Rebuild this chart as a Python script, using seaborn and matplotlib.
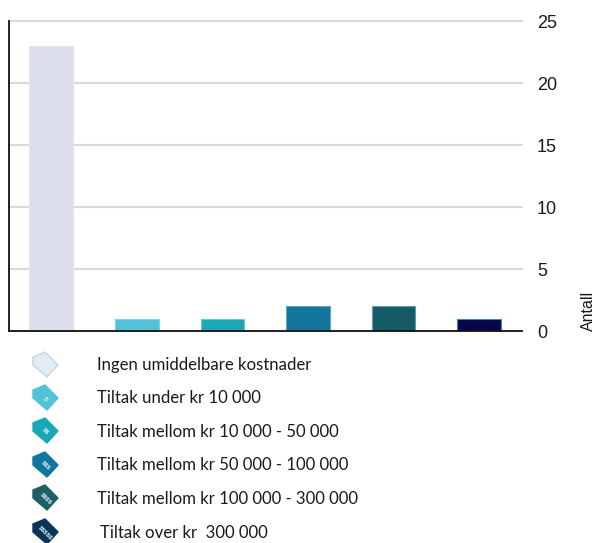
import numpy as np
import pandas as pd
import seaborn as sns
import matplotlib.pyplot as plt
from matplotlib.patches import Polygon
from matplotlib.transforms import Affine2D

W, H = 595, 543

kategorier = ["Ingen umiddelbare kostnader", "Tiltak under kr 10 000",
              "Tiltak mellom kr 10 000 - 50 000", "Tiltak mellom kr 50 000 - 100 000",
              "Tiltak mellom kr 100 000 - 300 000", "Tiltak over kr  300 000"]
antall = [23, 1, 1, 2, 2, 1]
farger = ["#dcdfeb", "#52c2d8", "#19a8b8", "#11759c", "#155b66", "#07064a"]
kanter = ["#e3e5ef", "#7fd3e3", "#6cc9d3", "#5fa5c0", "#5f9aa5", "#4a86ab"]
ikon_farger = ["#dfeef4", "#52c2d8", "#19a8b8", "#11759c", "#1d6068", "#0a3558"]
ikon_tekst = ["", "$", "$$", "$$$", "$$$$", "$$$$$"]
tekst_y = [365, 398, 432, 465, 499, 533]
tekst_x = [97, 97, 97, 97, 97, 100]
ikon_y = [365, 398, 431, 465, 498, 532]

sns.set_theme(style="white")
plt.rcParams["font.family"] = ["Liberation Sans", "DejaVu Sans"]

fig = plt.figure(figsize=(W / 100, H / 100), dpi=100)
ax = fig.add_axes([8.5 / W, 1 - 331 / H, (522 - 8.5) / W, (331 - 21) / H])

df = pd.DataFrame({"kategori": kategorier, "antall": antall})
sns.barplot(data=df, x="kategori", y="antall", hue="kategori", palette=farger,
            width=0.51, legend=False, saturation=1, ax=ax)

for bar, kant in zip(ax.patches, kanter):
    bar.set_edgecolor(kant)
    bar.set_linewidth(0.8)
    bar.set_zorder(3)

ax.set_ylim(0, 25)
ax.set_yticks([0, 5, 10, 15, 20, 25])
ax.set_xlabel("")
ax.set_ylabel("")
ax.set_xticks([])
ax.yaxis.tick_right()
ax.tick_params(axis="y", length=0, pad=10.8, labelsize=13, labelcolor="#1a1a1a")
ax.grid(axis="y", color="#d9d9d9", linewidth=1.5, clip_on=False)
ax.set_axisbelow(True)
for side in ["top", "right"]:
    ax.spines[side].set_visible(False)
for side in ["left", "bottom"]:
    ax.spines[side].set_color("#111111")
    ax.spines[side].set_linewidth(1.3)
    ax.spines[side].set_zorder(5)

fig.text(588 / W, 1 - 331 / H, "Antall", rotation=90, ha="center", va="bottom",
         fontsize=11.5, color="#1a1a1a")

# priklapper i tegnforklaringen, koordinater i piksler
form = [(-13, -8), (-1, -13), (12, 0), (1, 12), (-13, 0)]
px = Affine2D().scale(1 / W, -1 / H).translate(0, 1) + fig.transFigure
for i, navn in enumerate(kategorier):
    pts = [(46 + a, ikon_y[i] + b) for a, b in form]
    kant = "#c9d3d8" if i == 0 else ikon_farger[i]
    fig.add_artist(Polygon(pts, closed=True, facecolor=ikon_farger[i], edgecolor=kant,
                           linewidth=1.0, joinstyle="round", transform=px))
    if ikon_tekst[i]:
        fig.text(46 / W, 1 - (ikon_y[i] + 0.5) / H, ikon_tekst[i].replace("$", r"\$"),
                 color="#e8f4f6", fontsize=4.5, fontweight="bold", rotation=-45,
                 ha="center", va="center", rotation_mode="anchor")
    fig.text(tekst_x[i] / W, 1 - tekst_y[i] / H, navn, family=["Lato", "DejaVu Sans"],
             fontsize=12.1, color="#1a1a1a", ha="left", va="center")

fig.savefig("out.png", dpi=100, facecolor="white")
